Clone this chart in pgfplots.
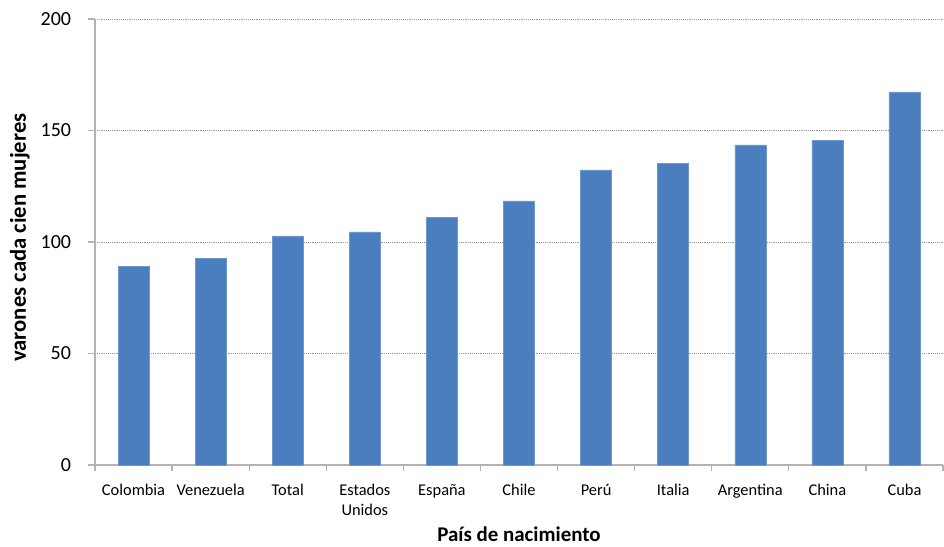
\documentclass[border=0pt]{standalone}
\usepackage{pgfplots}
\pgfplotsset{compat=1.18}
\usepackage{fontspec}
\setmainfont{Carlito}
\definecolor{barblue}{HTML}{4A7EBF}
\definecolor{axgray}{HTML}{B3B3B3}
\begin{document}
\begin{tikzpicture}
\begin{axis}[
  scale only axis,
  width=636pt, height=334.5pt,
  xmin=-0.5, xmax=10.5, ymin=0, ymax=200,
  ytick={0,50,100,150,200},
  ymajorgrids,
  grid style={densely dotted, color=gray!80},
  axis x line*=bottom, axis y line*=left,
  axis line style={axgray, line width=0.9pt},
  tick align=outside,
  xtick={0,...,10},
  xticklabels={Colombia,Venezuela,Total,{Estados\\Unidos},España,Chile,Perú,Italia,Argentina,China,Cuba},
  major x tick style={draw=none},
  minor xtick={-0.5,0.5,...,10.5},
  minor tick length=4.5pt,
  major tick length=5.25pt,
  tick style={axgray, line width=0.9pt},
  xticklabel style={font=\fontsize{12.3}{15}\selectfont, align=center, yshift=-5.5pt},
  yticklabel style={font=\fontsize{15}{17}\selectfont, xshift=-9.2pt},
  /pgf/number format/assume math mode=true,
  ylabel={\bfseries varones cada cien mujeres},
  xlabel={\bfseries País de nacimiento},
  ylabel style={font=\fontsize{17}{19}\selectfont, at={(axis description cs:-0.0885,0.51)}, anchor=center},
  xlabel style={font=\fontsize{15.7}{17}\selectfont, at={(axis description cs:0.5,-0.1555)}, anchor=center},
  ybar, bar width=23.25pt,
  clip=false,
]
\coordinate (O) at (rel axis cs:0,0);
\addplot[fill=barblue, draw=barblue!80!white] coordinates {
(0,89.2) (1,92.8) (2,102.7) (3,104.5) (4,111.2) (5,118.4) (6,132.3) (7,135.4) (8,143.6) (9,145.4) (10,167.3)};
\end{axis}
\pgfresetboundingbox
\path (O) ++(-71.25pt,-60.75pt) rectangle ++(708pt,409.5pt);
\end{tikzpicture}
\end{document}
